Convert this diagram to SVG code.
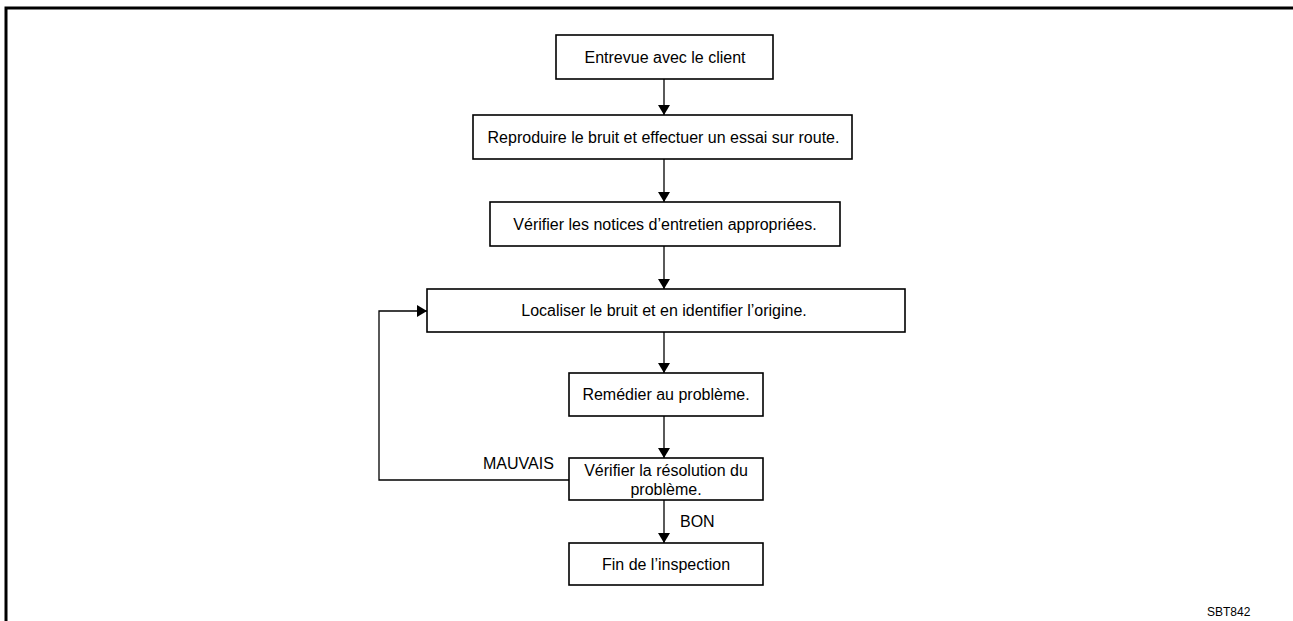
<svg xmlns="http://www.w3.org/2000/svg" width="1293" height="621" viewBox="0 0 1293 621">
<defs>
<marker id="ah" markerWidth="10" markerHeight="12" refX="10" refY="6" orient="auto" markerUnits="userSpaceOnUse">
<path d="M0,0 L10,6 L0,12 Z" fill="#000"/>
</marker>
<style>
.box{fill:#fff;stroke:#000;stroke-width:1.6}
.t{font-family:"Liberation Sans",Arial,sans-serif;font-size:16px;fill:#000;text-anchor:middle}
.lbl{font-family:"Liberation Sans",Arial,sans-serif;font-size:16px;fill:#000}
.c{fill:none;stroke:#000;stroke-width:1.3}
</style>
</defs>
<rect width="1293" height="621" fill="#fff"/>
<g id="frame">
<path d="M6,621 V8 H1293" fill="none" stroke="#000" stroke-width="3"/>
</g>
<g id="connectors">
<line class="c" x1="664" y1="79" x2="664" y2="115" marker-end="url(#ah)"/>
<line class="c" x1="664" y1="159" x2="664" y2="202" marker-end="url(#ah)"/>
<line class="c" x1="664" y1="246" x2="664" y2="289" marker-end="url(#ah)"/>
<line class="c" x1="664" y1="332" x2="664" y2="373" marker-end="url(#ah)"/>
<line class="c" x1="664" y1="416" x2="664" y2="458" marker-end="url(#ah)"/>
<line class="c" x1="664" y1="500" x2="664" y2="543" marker-end="url(#ah)"/>
<path class="c" d="M569,480 H379 V311 H427" marker-end="url(#ah)"/>
<text class="lbl" x="483" y="469">MAUVAIS</text>
<text class="lbl" x="680" y="527">BON</text>
</g>
<g id="n1">
<rect class="box" x="556" y="35" width="217" height="44"/>
<text class="t" x="665" y="63">Entrevue avec le client</text>
</g>
<g id="n2">
<rect class="box" x="473" y="115" width="379" height="44"/>
<text class="t" x="663.5" y="143">Reproduire le bruit et effectuer un essai sur route.</text>
</g>
<g id="n3">
<rect class="box" x="490" y="202" width="350" height="44"/>
<text class="t" x="665" y="230">Vérifier les notices d’entretien appropriées.</text>
</g>
<g id="n4">
<rect class="box" x="427" y="289" width="478" height="43"/>
<text class="t" x="664" y="316">Localiser le bruit et en identifier l’origine.</text>
</g>
<g id="n5">
<rect class="box" x="569" y="373" width="194" height="43"/>
<text class="t" x="666" y="400">Remédier au problème.</text>
</g>
<g id="n6">
<rect class="box" x="569" y="458" width="194" height="42"/>
<text class="t" x="666" y="476">Vérifier la résolution du</text>
<text class="t" x="666" y="495">problème.</text>
</g>
<g id="n7">
<rect class="box" x="569" y="543" width="194" height="42"/>
<text class="t" x="666" y="570">Fin de l’inspection</text>
</g>
<text x="1207" y="616" font-family="Liberation Sans, Arial, sans-serif" font-size="12">SBT842</text>
</svg>
